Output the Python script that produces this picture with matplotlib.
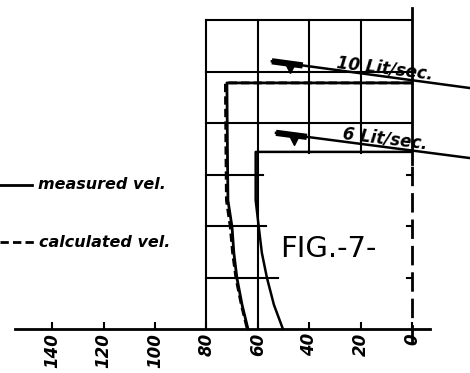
import matplotlib.pyplot as plt
import numpy as np

# velocity profiles (depth in grid units, velocity in cm/s)
depth_10 = [4.78, 3.48, 2.50, 1.98, 1.48, 0.99, 0.47, 0.0]
vel_10_meas = [72.0, 71.8, 71.6, 70.0, 69.3, 68.1, 66.1, 63.8]
vel_10_calc = [72.6, 72.4, 72.2, 70.7, 69.8, 68.5, 66.4, 64.1]
depth_6 = [3.44, 2.50, 1.98, 1.48, 0.99, 0.47, 0.0]
vel_6_meas = [60.8, 60.8, 59.6, 58.4, 56.4, 53.7, 50.2]

# water surface lines (velocity, level)
surf_10_v = [54.5, -22.6]
surf_10_y = [5.20, 4.68]
surf_6_v = [52.9, -22.6]
surf_6_y = [3.81, 3.32]

flow_labels = ["10 Lit/sec.", "6 Lit/sec."]
xticks = [140, 120, 100, 80, 60, 40, 20, 0]

hand = dict(family="DejaVu Sans", style="italic", weight="bold")

fig = plt.figure(figsize=(4.7, 3.73), dpi=100)
ax = fig.add_axes([0, 0, 1, 1])
ax.set_xlim(160.3, -22.6)
ax.set_ylim(-0.854, 6.39)

# grid box
for v in [80, 60]:
    ax.plot([v, v], [0, 6], color="black", lw=1.5)
for v in [40, 20]:
    ax.plot([v, v], [3.42, 6], color="black", lw=1.5)
for y in [6, 5, 4]:
    ax.plot([80, 0], [y, y], color="black", lw=1.5)
for y, end in zip([3, 2, 1], [58, 56.8, 52.1]):
    ax.plot([80, end], [y, y], color="black", lw=1.5)

# right (depth) axis: solid on top, dashed below
ax.plot([0, 0], [3.2, 6.23], color="black", lw=2)
ax.plot([0, 0], [-0.3, 3.2], color="black", lw=2, dashes=(7, 2.5))
for y in [1, 2, 3]:
    ax.plot([0, 2], [y, y], color="black", lw=1.5)

# profiles
ax.plot([0] + vel_10_meas, [depth_10[0]] + depth_10, color="black", lw=2)
ax.plot([0] + vel_10_calc, [depth_10[0]] + depth_10, color="black", lw=2,
        dashes=(3, 1.5))
ax.plot([0] + vel_6_meas, [depth_6[0]] + depth_6, color="black", lw=1.8)

# water surfaces with level markers
for sv, sy, lab in [(surf_10_v, surf_10_y, flow_labels[0]),
                    (surf_6_v, surf_6_y, flow_labels[1])]:
    ax.plot(sv, sy, color="black", lw=1.8)
    k = (sy[1] - sy[0]) / (sv[1] - sv[0])
    v1 = sv[0] - 12
    ax.plot([sv[0], v1], [sy[0], sy[0] + k * (v1 - sv[0])], color="black",
            lw=4.5, solid_capstyle="butt")
    vm = sv[0] - 7
    ax.plot([vm], [sy[0] + k * (vm - sv[0]) - 0.09], marker="v",
            color="black", ms=7)
    vt = 10.5
    ax.text(vt, sy[0] + k * (vt - sv[0]) + 0.16, lab, ha="center",
            va="center", rotation=-7, fontsize=12, **hand)

# legend
ax.plot([160.3, 147.9], [2.80, 2.80], color="black", lw=2)
ax.plot([160.3, 146.7], [1.69, 1.69], color="black", lw=2, dashes=(3, 1.5))
ax.text(145.5, 2.80, "measured vel.", ha="left", va="center", fontsize=11.5,
        **hand)
ax.text(145.0, 1.69, "calculated vel.", ha="left", va="center",
        fontsize=11.5, **hand)

ax.text(32.7, 1.55, "FIG.-7-", ha="center", va="center", fontsize=21,
        family="DejaVu Sans")

# velocity axis
for s in ["left", "right", "top"]:
    ax.spines[s].set_visible(False)
ax.spines["bottom"].set_position(("data", 0))
ax.spines["bottom"].set_bounds(154.5, -7)
ax.spines["bottom"].set_linewidth(2)
ax.set_yticks([])
ax.set_xticks(xticks)
ax.set_xticklabels([str(t) for t in xticks], rotation=90, fontsize=12, **hand)
ax.tick_params(axis="x", direction="in", length=5, width=1.5, pad=3)

fig.savefig("out.png", dpi=100)
